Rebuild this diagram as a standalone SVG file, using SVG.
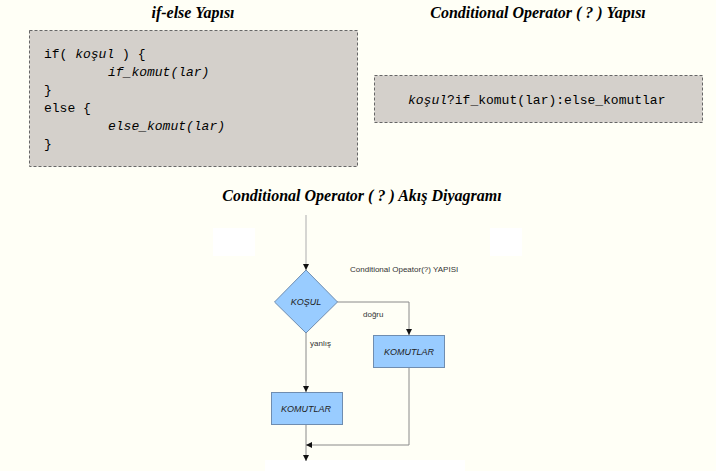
<svg xmlns="http://www.w3.org/2000/svg" width="716" height="471" viewBox="0 0 716 471">
<style>
.title{font-family:"Liberation Serif",serif;font-weight:bold;font-style:italic;font-size:16px;fill:#000;text-anchor:middle}
.code{font-family:"Liberation Mono",monospace;font-size:13px;fill:#000}
.it{font-style:italic}
.panel{fill:#d4d0cb;stroke:#666;stroke-width:1;stroke-dasharray:3,2}
.shape{fill:#99ccff;stroke:#6f8db0;stroke-width:1}
.lbl{font-family:"Liberation Sans",Arial,sans-serif;font-style:italic;font-size:9px;fill:#222;text-anchor:middle}
.small{font-family:"Liberation Sans",Arial,sans-serif;font-size:8px;fill:#333}
.edge{fill:none;stroke:#8a8a8a;stroke-width:1}
</style>
<defs>
<marker id="arr" viewBox="0 0 6 6" refX="6" refY="3" markerWidth="6" markerHeight="6" orient="auto" markerUnits="userSpaceOnUse">
<path d="M0,0 L6,3 L0,6 z" fill="#111"/>
</marker>
</defs>
<rect x="0" y="0" width="716" height="471" fill="#fffff6"/>
<rect x="213" y="228" width="42" height="28" fill="#ffffff"/>
<rect x="490" y="228" width="32" height="28" fill="#ffffff"/>
<rect x="265" y="460" width="200" height="11" fill="#ffffff"/>

<g id="ifelse">
<text class="title" x="193" y="18">if-else Yapısı</text>
<rect class="panel" x="29.5" y="30.5" width="328" height="136"/>
<text class="code" x="44" y="58">if( <tspan class="it">koşul</tspan> ) {</text>
<text class="code it" x="108" y="76">if_komut(lar)</text>
<text class="code" x="44" y="94">}</text>
<text class="code" x="44" y="112">else {</text>
<text class="code it" x="108" y="130">else_komut(lar)</text>
<text class="code" x="44" y="148">}</text>
</g>

<g id="ternary">
<text class="title" x="538" y="18">Conditional Operator ( ? ) Yapısı</text>
<rect class="panel" x="374.5" y="75.5" width="328" height="47"/>
<text class="code" x="408" y="104"><tspan class="it">koşul</tspan>?if_komut(lar):else_komutlar</text>
</g>

<text class="title" x="362" y="201">Conditional Operator ( ? ) Akış Diyagramı</text>

<g id="connectors">
<line x1="306" y1="215" x2="306" y2="270" stroke="#bbbbbb" stroke-width="1.2" marker-end="url(#arr)"/>
<polyline class="edge" points="337,302 409,302 409,335" marker-end="url(#arr)"/>
<line class="edge" x1="306" y1="332" x2="306" y2="392" marker-end="url(#arr)"/>
<line class="edge" x1="306" y1="424" x2="306" y2="461" marker-end="url(#arr)"/>
<polyline class="edge" points="409,367 409,445 306,445" marker-end="url(#arr)"/>
<text class="small" x="363" y="317">doğru</text>
<text class="small" x="310" y="346">yanlış</text>
</g>

<text class="small" x="350" y="272">Conditional Opeator(?) YAPISI</text>

<g id="kosul">
<polygon class="shape" points="306,270 337.5,302 306,333 274.5,302"/>
<text class="lbl" x="306" y="305">KOŞUL</text>
</g>
<g id="komutlar-right">
<rect class="shape" x="373.5" y="335.5" width="71" height="32"/>
<text class="lbl" x="409" y="355">KOMUTLAR</text>
</g>
<g id="komutlar-left">
<rect class="shape" x="271.5" y="392.5" width="71" height="32"/>
<text class="lbl" x="306" y="412">KOMUTLAR</text>
</g>
</svg>
